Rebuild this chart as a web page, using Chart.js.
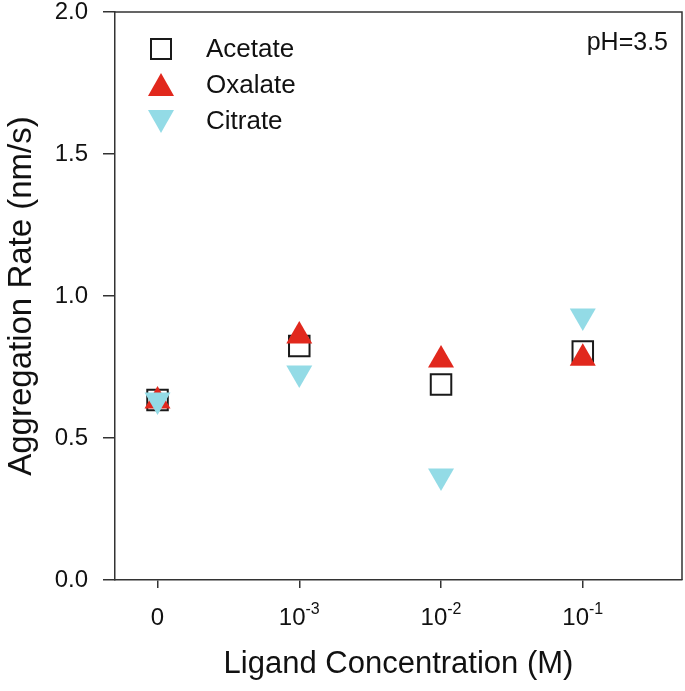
<!DOCTYPE html>
<html>
<head>
<meta charset="utf-8">
<script src="https://cdn.jsdelivr.net/npm/chart.js@4.4.1/dist/chart.umd.min.js"></script>
<style>
  html, body { margin: 0; padding: 0; overflow: hidden; background: white; }
  #box { width: 685px; height: 691px; position: relative; }
  canvas { display: block; }
</style>
</head>
<body>
<div id="box"><canvas id="grafica"></canvas></div>
<script>
// data
const xVals = [0, 1, 2, 3]
const xBase = ["0", "10", "10", "10"]
const xExp = ["", "-3", "-2", "-1"]
const acetate = [0.634, 0.824, 0.688, 0.805]
const oxalate = [0.63, 0.859, 0.775, 0.781]
const citrate = [0.634, 0.729, 0.366, 0.93]
const yTicks = [0, 0.5, 1.0, 1.5, 2.0]
const note = "pH=3.5"

const fuente = "'Liberation Sans', Arial, sans-serif"
const marco = "#333333"
const rojo = "#e1281d"
const celeste = "#93dbe6"

const pares = (vals) => vals.map((v, i) => ({ x: xVals[i], y: v }))

// no extra padding from the axes, margins come from layout.padding
const sinPadding = (axis) => {
  axis.paddingTop = 0
  axis.paddingBottom = 0
  axis.paddingLeft = 0
  axis.paddingRight = 0
}

const extras = {
  id: "extras",
  afterDraw(chart) {
    const { ctx, chartArea: a, scales } = chart
    const xs = scales.x
    ctx.save()
    // top + right frame
    ctx.strokeStyle = marco
    ctx.lineWidth = 1.5
    ctx.beginPath()
    ctx.moveTo(a.left, a.top)
    ctx.lineTo(a.right, a.top)
    ctx.lineTo(a.right, a.bottom)
    ctx.stroke()

    // x tick labels with exponents
    ctx.fillStyle = "#111"
    ctx.textBaseline = "alphabetic"
    xVals.forEach((v, i) => {
      const px = xs.getPixelForValue(v)
      ctx.font = "24px " + fuente
      const w1 = ctx.measureText(xBase[i]).width
      ctx.font = "16px " + fuente
      const w2 = xExp[i] ? ctx.measureText(xExp[i]).width : 0
      const x0 = px - (w1 + w2) / 2
      ctx.font = "24px " + fuente
      ctx.textAlign = "left"
      ctx.fillText(xBase[i], x0, 625)
      if (xExp[i]) {
        ctx.font = "16px " + fuente
        ctx.fillText(xExp[i], x0 + w1, 614)
      }
    })

    // legend
    const sets = chart.data.datasets
    const lx = 161
    const filas = [49, 85, 121]
    sets.forEach((ds, i) => {
      const cy = filas[i]
      if (ds.pointStyle === "rect") {
        ctx.fillStyle = "white"
        ctx.strokeStyle = ds.pointBorderColor
        ctx.lineWidth = 2
        ctx.fillRect(lx - 10, cy - 10, 20, 20)
        ctx.strokeRect(lx - 10, cy - 10, 20, 20)
      } else {
        const dir = ds.rotation === 180 ? -1 : 1
        ctx.fillStyle = ds.pointBackgroundColor
        ctx.beginPath()
        ctx.moveTo(lx, cy - dir * 12)
        ctx.lineTo(lx + 13, cy + dir * 11)
        ctx.lineTo(lx - 13, cy + dir * 11)
        ctx.closePath()
        ctx.fill()
      }
      ctx.fillStyle = "#111"
      ctx.font = "26px " + fuente
      ctx.textAlign = "left"
      ctx.fillText(ds.label, 206, cy + 8)
    })

    // note
    ctx.font = "25px " + fuente
    ctx.textAlign = "right"
    ctx.fillText(note, 668, 50)
    ctx.restore()
  }
}

const grafDOM = document.querySelector("#grafica")
const config = {
  type: "scatter",
  data: {
    datasets: [
      {
        label: "Acetate",
        data: pares(acetate),
        pointStyle: "rect",
        pointRadius: 14.5,
        pointHoverRadius: 14.5,
        pointBackgroundColor: "white",
        pointBorderColor: "#1a1a1a",
        pointBorderWidth: 2,
        order: 3
      },
      {
        label: "Oxalate",
        data: pares(oxalate),
        pointStyle: "triangle",
        pointRadius: 15,
        pointHoverRadius: 15,
        pointBackgroundColor: rojo,
        pointBorderColor: rojo,
        pointBorderWidth: 0,
        order: 2
      },
      {
        label: "Citrate",
        data: pares(citrate),
        pointStyle: "triangle",
        rotation: 180,
        pointRotation: 180,
        pointRadius: 15,
        pointHoverRadius: 15,
        pointBackgroundColor: celeste,
        pointBorderColor: celeste,
        pointBorderWidth: 0,
        order: 1
      }
    ]
  },
  options: {
    responsive: true,
    maintainAspectRatio: false,
    animation: false,
    events: [],
    layout: { autoPadding: false, padding: { top: 12, right: 3, left: 0, bottom: 0 } },
    plugins: {
      legend: { display: false },
      tooltip: { enabled: false }
    },
    scales: {
      x: {
        type: "linear",
        min: -0.3,
        max: 3.7,
        afterBuildTicks: (axis) => { axis.ticks = xVals.map(v => ({ value: v })) },
        afterFit: (axis) => { axis.height = 111; sinPadding(axis) },
        ticks: { display: false },
        grid: { drawOnChartArea: false, drawTicks: true, tickLength: 8, color: marco, lineWidth: 1.5 },
        border: { display: true, color: marco, width: 1.5 },
        title: {
          display: true,
          text: "Ligand Concentration (M)",
          color: "#111",
          font: { family: fuente, size: 31 },
          padding: { top: 0, bottom: 8 }
        }
      },
      y: {
        min: 0,
        max: 2,
        afterBuildTicks: (axis) => { axis.ticks = yTicks.map(v => ({ value: v })) },
        afterFit: (axis) => { axis.width = 115; sinPadding(axis) },
        ticks: {
          color: "#111",
          padding: 15,
          font: { family: fuente, size: 24 },
          callback: (v) => Number(v).toFixed(1)
        },
        grid: { drawOnChartArea: false, drawTicks: true, tickLength: 12, color: marco, lineWidth: 1.5 },
        border: { display: true, color: marco, width: 1.5 },
        title: {
          display: true,
          text: "Aggregation Rate (nm/s)",
          color: "#111",
          font: { family: fuente, size: 33 },
          padding: { top: 2, bottom: 0 }
        }
      }
    }
  },
  plugins: [extras]
}
let miGraf = new Chart(grafDOM, config)
</script>
</body>
</html>
